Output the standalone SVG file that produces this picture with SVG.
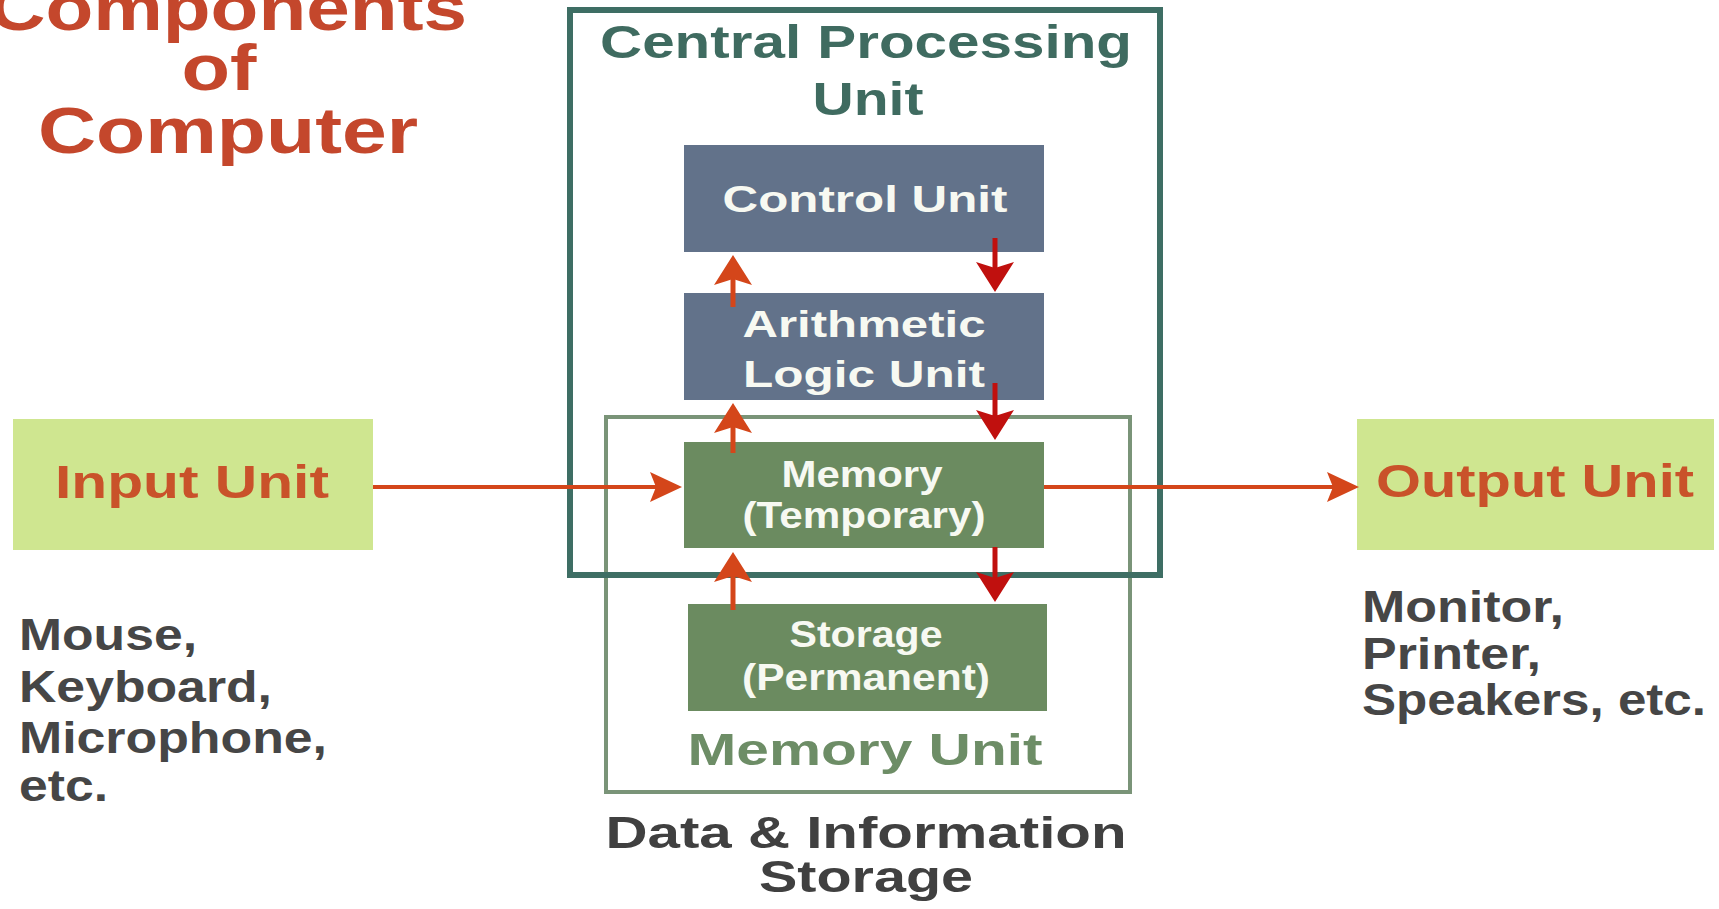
<svg xmlns="http://www.w3.org/2000/svg" width="1719" height="909" viewBox="0 0 1719 909">
<style>
text{font-family:"Liberation Sans",Arial,sans-serif;font-weight:bold;text-anchor:middle}
.title{fill:#c4472c;font-size:64px}
.cpuT{fill:#3f6b60;font-size:46px}
.inner{fill:#f7f9f2;font-size:37px}
.io{fill:#c9522a;font-size:46px}
.note{fill:#464646;font-size:44px;text-anchor:start}
.mu{fill:#6d8d66;font-size:45px}
.ds{fill:#404040;font-size:44px}
.slate{fill:#62728a}
.green{fill:#6b8b60}
.ioBox{fill:#cfe690}
.up{stroke:#d4461a;stroke-width:5;fill:none}
.down{stroke:#c0100e;stroke-width:5;fill:none}
.hz{stroke:#d4461a;stroke-width:4;fill:none}
</style>
<defs>
<marker id="hUp" viewBox="0 0 30 38" refX="6" refY="19" markerWidth="30" markerHeight="38" markerUnits="userSpaceOnUse" orient="auto"><path d="M0,0 L30,19 L0,38 L6,19 Z" fill="#d4461a"/></marker>
<marker id="hDown" viewBox="0 0 30 38" refX="6" refY="19" markerWidth="30" markerHeight="38" markerUnits="userSpaceOnUse" orient="auto"><path d="M0,0 L30,19 L0,38 L6,19 Z" fill="#c0100e"/></marker>
<marker id="hH" viewBox="0 0 32 30" refX="6" refY="15" markerWidth="32" markerHeight="30" markerUnits="userSpaceOnUse" orient="auto"><path d="M0,0 L32,15 L0,30 L6,15 Z" fill="#d4461a"/></marker>
</defs>
<rect width="1719" height="909" fill="#ffffff"/>

<g id="title">
<text class="title" x="228" y="30" textLength="478" lengthAdjust="spacingAndGlyphs">Components</text>
<text class="title" x="219" y="90" textLength="75" lengthAdjust="spacingAndGlyphs">of</text>
<text class="title" x="228" y="153" textLength="380" lengthAdjust="spacingAndGlyphs">Computer</text>
</g>

<g id="memory-unit">
<rect x="606" y="417" width="524" height="375" fill="none" stroke="#7a9478" stroke-width="4"/>
<text class="mu" x="865" y="765" textLength="355" lengthAdjust="spacingAndGlyphs">Memory Unit</text>
</g>

<g id="cpu">
<rect x="570" y="10" width="590" height="565" fill="none" stroke="#3e6e64" stroke-width="6"/>
<text class="cpuT" x="866" y="58" textLength="532" lengthAdjust="spacingAndGlyphs">Central Processing</text>
<text class="cpuT" x="868" y="115" textLength="111" lengthAdjust="spacingAndGlyphs">Unit</text>
</g>

<g id="control-unit">
<rect class="slate" x="684" y="145" width="360" height="107"/>
<text class="inner" x="865" y="212" textLength="285" lengthAdjust="spacingAndGlyphs">Control Unit</text>
</g>

<g id="alu">
<rect class="slate" x="684" y="293" width="360" height="107"/>
<text class="inner" x="864" y="337" textLength="243" lengthAdjust="spacingAndGlyphs">Arithmetic</text>
<text class="inner" x="864" y="387" textLength="242" lengthAdjust="spacingAndGlyphs">Logic Unit</text>
</g>

<g id="memory-temporary">
<rect class="green" x="684" y="442" width="360" height="106"/>
<text class="inner" x="862" y="487" textLength="161" lengthAdjust="spacingAndGlyphs">Memory</text>
<text class="inner" x="864" y="528" textLength="243" lengthAdjust="spacingAndGlyphs">(Temporary)</text>
</g>

<g id="storage-permanent">
<rect class="green" x="688" y="604" width="359" height="107"/>
<text class="inner" x="866" y="647" textLength="153" lengthAdjust="spacingAndGlyphs">Storage</text>
<text class="inner" x="866" y="690" textLength="248" lengthAdjust="spacingAndGlyphs">(Permanent)</text>
</g>

<g id="data-storage-label">
<text class="ds" x="866" y="848" textLength="521" lengthAdjust="spacingAndGlyphs">Data &amp; Information</text>
<text class="ds" x="866" y="892" textLength="214" lengthAdjust="spacingAndGlyphs">Storage</text>
</g>

<g id="input-unit">
<rect class="ioBox" x="13" y="419" width="360" height="131"/>
<text class="io" x="192" y="498" textLength="274" lengthAdjust="spacingAndGlyphs">Input Unit</text>
</g>

<g id="input-devices">
<text class="note" x="19" y="650" textLength="178" lengthAdjust="spacingAndGlyphs">Mouse,</text>
<text class="note" x="19" y="702" textLength="253" lengthAdjust="spacingAndGlyphs">Keyboard,</text>
<text class="note" x="19" y="753" textLength="308" lengthAdjust="spacingAndGlyphs">Microphone,</text>
<text class="note" x="19" y="801" textLength="89" lengthAdjust="spacingAndGlyphs">etc.</text>
</g>

<g id="output-unit">
<rect class="ioBox" x="1357" y="419" width="357" height="131"/>
<text class="io" x="1535" y="497" textLength="318" lengthAdjust="spacingAndGlyphs">Output Unit</text>
</g>

<g id="output-devices">
<text class="note" x="1362" y="622" textLength="202" lengthAdjust="spacingAndGlyphs">Monitor,</text>
<text class="note" x="1362" y="669" textLength="179" lengthAdjust="spacingAndGlyphs">Printer,</text>
<text class="note" x="1362" y="715" textLength="344" lengthAdjust="spacingAndGlyphs">Speakers, etc.</text>
</g>

<g id="connectors">
<line class="hz" x1="373" y1="487" x2="656" y2="487" marker-end="url(#hH)"/>
<line class="hz" x1="1044" y1="487" x2="1333" y2="487" marker-end="url(#hH)"/>
<line class="up" x1="733" y1="307" x2="733" y2="279" marker-end="url(#hUp)"/>
<line class="up" x1="733" y1="453" x2="733" y2="427" marker-end="url(#hUp)"/>
<line class="up" x1="733" y1="610" x2="733" y2="576" marker-end="url(#hUp)"/>
<line class="down" x1="995" y1="238" x2="995" y2="268" marker-end="url(#hDown)"/>
<line class="down" x1="995" y1="383" x2="995" y2="416" marker-end="url(#hDown)"/>
<line class="down" x1="995" y1="547" x2="995" y2="578" marker-end="url(#hDown)"/>
</g>
</svg>
